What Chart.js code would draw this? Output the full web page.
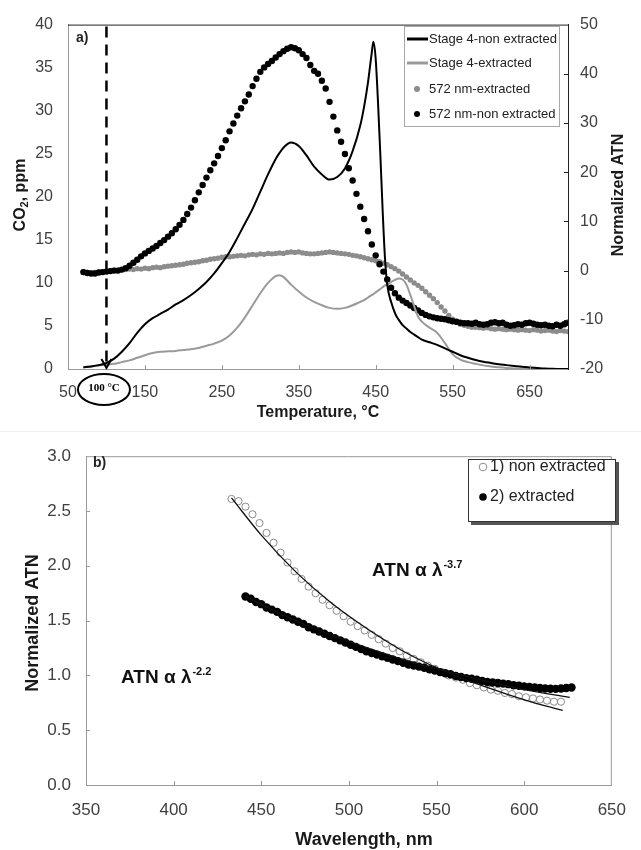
<!DOCTYPE html>
<html>
<head>
<meta charset="utf-8">
<script src="https://cdn.jsdelivr.net/npm/chart.js@4.4.1/dist/chart.umd.min.js"></script>
<style>
  body { margin: 0; background: #fff; }
  #wrap { position: relative; width: 641px; height: 850px; }
  #wrap canvas { position: absolute; left: 0; }
  #tga { top: 0; }
  #spec { top: 431px; }
  .sep { position: absolute; left: 0; top: 431px; width: 641px; height: 1px; background: #f0f0f0; }
</style>
</head>
<body>
<div id="wrap">
  <canvas id="tga" width="641" height="431"></canvas>
  <div class="sep"></div>
  <canvas id="spec" width="641" height="419"></canvas>
</div>
<script>
// ---- panel a) : CO2 evolution and ATN during the temperature programme ----
const tempTicks = [50, 150, 250, 350, 450, 550, 650];
const co2Ticks = [0, 5, 10, 15, 20, 25, 30, 35, 40];
const atnTicksA = [-20, -10, 0, 10, 20, 30, 40, 50];
const markTemp = 100;

const tempLine = [70, 80, 90, 100, 110, 120, 130, 140, 150, 160, 170, 180, 190, 200, 210, 220, 230, 240, 250, 260,
  270, 280, 290, 300, 310, 320, 325, 330, 340, 350, 360, 370, 380, 390, 400, 410, 420, 430, 435, 440,
  445, 447, 450, 453, 456, 459, 462, 465, 470, 476, 480, 485, 490, 495, 500, 505, 510, 520, 530, 540,
  550, 560, 570, 580, 590, 600, 610, 620, 630, 640, 650, 660, 670, 680, 690, 700];
const co2NonExtracted = [0.2, 0.3, 0.45, 0.7, 1.2, 2.0, 3.0, 4.2, 5.2, 5.9, 6.4, 6.9, 7.5, 8.0, 8.6, 9.3, 10.1, 11.1, 12.3, 13.6,
  15.2, 16.9, 18.6, 20.6, 22.6, 24.4, 25.1, 25.7, 26.3, 25.9, 24.8, 23.5, 22.6, 22.0, 22.3, 23.3, 25.3, 28.3, 30.5, 33.3,
  36.8, 38.0, 36.0, 31.0, 25.0, 18.5, 13.0, 9.8, 7.8, 6.3, 5.7, 5.1, 4.7, 4.3, 4.0, 3.7, 3.4, 3.1, 2.8, 2.4,
  2.0, 1.6, 1.3, 1.05, 0.85, 0.7, 0.55, 0.45, 0.35, 0.25, 0.18, 0.12, 0.06, 0.02, 0.0, 0.0];
const co2Extracted = [0.2, 0.3, 0.4, 0.5, 0.6, 0.8, 1.0, 1.3, 1.6, 1.85, 2.0, 2.05, 2.1, 2.2, 2.3, 2.45, 2.7, 2.95, 3.3, 3.9,
  4.8, 6.0, 7.4, 8.8, 10.0, 10.8, 10.9, 10.7, 9.8, 9.0, 8.3, 7.8, 7.4, 7.1, 7.0, 7.1, 7.4, 7.8, 8.0, 8.3,
  8.6, 8.7, 8.9, 9.1, 9.3, 9.5, 9.7, 9.8, 10.1, 10.4, 10.5, 10.4, 9.8, 8.6, 7.3, 6.1, 5.5, 4.8, 4.2, 3.0,
  1.7, 1.1, 0.8, 0.6, 0.42, 0.3, 0.2, 0.12, 0.06, 0.02, 0.0, 0.0, 0.0, 0.0, 0.0, 0.0];

const tempDots = [70, 75, 80, 85, 90, 95, 100, 105, 110, 115, 120, 125, 130, 135, 140, 145, 150, 155, 160, 165,
  170, 175, 180, 185, 190, 195, 200, 205, 210, 215, 220, 225, 230, 235, 240, 245, 250, 255, 260, 265,
  270, 275, 280, 285, 290, 295, 300, 305, 310, 315, 320, 325, 330, 335, 340, 345, 350, 355, 360, 365,
  370, 375, 380, 385, 390, 395, 400, 405, 410, 415, 420, 425, 430, 435, 440, 445, 450, 455, 460, 465,
  470, 475, 480, 485, 490, 495, 500, 505, 510, 515, 520, 525, 530, 535, 540, 545, 550, 555, 560, 565,
  570, 575, 580, 585, 590, 595, 600, 605, 610, 615, 620, 625, 630, 635, 640, 645, 650, 655, 660, 665,
  670, 675, 680, 685, 690, 695, 700];
const atnNonExtracted = [-0.3, -0.5, -0.6, -0.6, -0.4, -0.3, -0.2, -0.1, 0.0, 0.0, 0.2, 0.5, 1.0, 1.6, 2.2, 2.9, 3.5, 4.0, 4.5, 5.0,
  5.6, 6.2, 6.9, 7.6, 8.4, 9.3, 10.3, 11.5, 12.8, 14.3, 15.9, 17.4, 18.9, 20.4, 21.8, 23.3, 24.9, 26.5, 28.3, 29.9,
  31.5, 33.0, 34.4, 35.8, 37.5, 39.0, 40.4, 41.3, 42.0, 42.6, 43.3, 44.0, 44.6, 45.1, 45.4, 45.2, 44.8, 44.0, 43.2, 41.8,
  40.6, 40.0, 38.6, 37.0, 34.3, 31.3, 28.5, 26.2, 23.7, 20.8, 18.3, 15.6, 13.0, 10.5, 8.0, 5.3, 3.1, 1.3, -0.2, -1.8,
  -3.5, -4.6, -5.5, -6.1, -6.6, -7.1, -7.6, -8.1, -8.6, -9.0, -9.3, -9.5, -9.7, -9.8, -9.9, -10.1, -10.3, -10.4, -10.6, -10.7,
  -10.7, -10.8, -10.6, -10.9, -11.0, -10.9, -10.6, -10.5, -10.7, -10.6, -11.0, -11.2, -11.1, -10.9, -11.0, -10.7, -10.6, -10.8, -11.0, -11.1,
  -11.0, -11.2, -11.3, -11.0, -11.2, -10.9, -10.6];
const atnExtracted = [-0.2, -0.4, -0.5, -0.4, -0.3, -0.2, -0.1, 0.0, 0.1, 0.1, 0.2, 0.2, 0.3, 0.2, 0.4, 0.3, 0.5, 0.4, 0.6, 0.7,
  0.6, 0.8, 0.9, 1.0, 1.1, 1.2, 1.3, 1.5, 1.6, 1.7, 1.8, 2.0, 2.1, 2.3, 2.4, 2.5, 2.7, 2.8, 2.8, 2.9,
  3.0, 3.1, 3.0, 3.2, 3.3, 3.2, 3.4, 3.3, 3.5, 3.4, 3.5, 3.6, 3.5, 3.7, 3.8, 3.7, 3.8, 3.6, 3.5, 3.4,
  3.4, 3.5, 3.6, 3.7, 3.8, 3.7, 3.6, 3.5, 3.4, 3.3, 3.1, 3.0, 2.8, 2.6, 2.4, 2.2, 2.0, 1.8, 1.5, 1.2,
  0.8, 0.4, -0.1, -0.7, -1.3, -1.9, -2.5, -3.0, -3.6, -4.3, -5.0, -5.7, -6.5, -7.4, -8.2, -9.1, -9.9, -10.5, -10.9, -11.1,
  -11.3, -11.5, -11.5, -11.6, -11.7, -11.6, -11.8, -11.9, -11.8, -11.9, -12.0, -11.9, -12.0, -12.1, -12.0, -12.1, -12.2, -12.0, -12.1, -12.3,
  -12.2, -12.1, -12.3, -12.4, -12.2, -12.3, -12.4];

// ---- panel b) : spectral dependence of ATN ----
const wlTicks = [350, 400, 450, 500, 550, 600, 650];
const atnTicksB = [0, 0.5, 1.0, 1.5, 2.0, 2.5, 3.0];

const wlNon = [433, 437, 441, 445, 449, 453, 457, 461, 465, 469, 473, 477, 481, 485, 489, 493, 497, 501, 505, 509,
  513, 517, 521, 525, 529, 533, 537, 541, 545, 549, 553, 557, 561, 565, 569, 573, 577, 581, 585, 589,
  593, 597, 601, 605, 609, 613, 617, 621];
const atnNon = [2.61, 2.59, 2.54, 2.47, 2.39, 2.30, 2.21, 2.12, 2.03, 1.95, 1.88, 1.81, 1.75, 1.69, 1.64, 1.59, 1.54, 1.49, 1.45, 1.41,
  1.37, 1.33, 1.29, 1.25, 1.22, 1.18, 1.15, 1.12, 1.09, 1.06, 1.03, 1.00, 0.98, 0.96, 0.93, 0.91, 0.89, 0.87, 0.86, 0.84,
  0.83, 0.81, 0.80, 0.79, 0.78, 0.77, 0.76, 0.76];

const wlExt = [441, 444, 447, 450, 453, 456, 459, 462, 465, 468, 471, 474, 477, 480, 483, 486, 489, 492, 495, 498,
  501, 504, 507, 510, 513, 516, 519, 522, 525, 528, 531, 534, 537, 540, 543, 546, 549, 552, 555, 558,
  561, 564, 567, 570, 573, 576, 579, 582, 585, 588, 591, 594, 597, 600, 603, 606, 609, 612, 615, 618,
  621, 624, 627];
const atnExt = [1.72, 1.70, 1.67, 1.65, 1.62, 1.60, 1.58, 1.55, 1.53, 1.51, 1.49, 1.47, 1.44, 1.42, 1.40, 1.38, 1.36, 1.34, 1.32, 1.30,
  1.28, 1.26, 1.24, 1.22, 1.205, 1.19, 1.175, 1.16, 1.145, 1.13, 1.115, 1.10, 1.09, 1.08, 1.07, 1.055, 1.045, 1.03, 1.02, 1.01,
  0.995, 0.985, 0.975, 0.97, 0.96, 0.95, 0.94, 0.935, 0.93, 0.925, 0.92, 0.91, 0.905, 0.90, 0.895, 0.89, 0.885, 0.88, 0.878, 0.877,
  0.88, 0.885, 0.89];

// power-law fit curves
const wlFitNon = [433, 450, 470, 490, 510, 530, 550, 570, 590, 610, 622];
const fitNon = [2.62, 2.28, 1.94, 1.66, 1.43, 1.23, 1.07, 0.94, 0.83, 0.73, 0.68];
const wlFitExt = [441, 460, 480, 500, 520, 540, 560, 580, 600, 626];
const fitExt = [1.72, 1.57, 1.43, 1.31, 1.20, 1.10, 1.02, 0.94, 0.87, 0.80];

const SANS = '"Liberation Sans", Arial, sans-serif';
const pts = (xs, ys) => xs.map((x, i) => ({ x: x, y: ys[i] }));
const fixedTicks = (list) => (scale) => { scale.ticks = list.map(v => ({ value: v })); };

function vText(ctx, parts, x, y) {
  // parts: [text, font, dy] drawn left to right, rotated to read bottom-up
  ctx.save();
  ctx.translate(x, y);
  ctx.rotate(-Math.PI / 2);
  ctx.textBaseline = 'middle';
  ctx.textAlign = 'left';
  let w = 0;
  parts.forEach(p => { ctx.font = p[1]; w += ctx.measureText(p[0]).width; });
  let cx = -w / 2;
  parts.forEach(p => { ctx.font = p[1]; ctx.fillText(p[0], cx, p[2] || 0); cx += ctx.measureText(p[0]).width; });
  ctx.restore();
}

function innerTicks(ctx, scale, values, side, len, color) {
  ctx.save();
  ctx.strokeStyle = color;
  ctx.lineWidth = 1;
  ctx.beginPath();
  values.forEach(v => {
    const p = Math.round(scale.getPixelForValue(v)) + 0.5;
    if (side === 'bottom') { ctx.moveTo(p, scale.top); ctx.lineTo(p, scale.top - len); }
    if (side === 'left') { ctx.moveTo(scale.right, p); ctx.lineTo(scale.right + len, p); }
    if (side === 'right') { ctx.moveTo(scale.left, p); ctx.lineTo(scale.left - len, p); }
  });
  ctx.stroke();
  ctx.restore();
}

function powerLabel(ctx, x, y, sup) {
  ctx.save();
  ctx.fillStyle = '#111';
  ctx.textBaseline = 'alphabetic';
  ctx.textAlign = 'left';
  ctx.font = 'bold 19px ' + SANS;
  ctx.fillText('ATN α λ', x, y);
  const w = ctx.measureText('ATN α λ').width;
  ctx.font = 'bold 11px ' + SANS;
  ctx.fillText(sup, x + w + 1, y - 8);
  ctx.restore();
}

const panelA = {
  id: 'panelA',
  afterDraw(chart) {
    const ctx = chart.ctx;
    const a = chart.chartArea;
    const xs = chart.scales.x;

    ctx.save();
    ctx.strokeStyle = '#222';
    ctx.lineWidth = 1;
    ctx.beginPath();
    ctx.moveTo(a.left, a.top + 0.5);
    ctx.lineTo(a.right, a.top + 0.5);
    ctx.stroke();
    ctx.restore();

    innerTicks(ctx, xs, tempTicks.slice(1), 'bottom', 4, '#999');
    innerTicks(ctx, chart.scales.y2, atnTicksA.slice(1, -1), 'right', 4, '#222');

    // dashed marker at the start temperature
    const mx = xs.getPixelForValue(markTemp);
    ctx.save();
    ctx.strokeStyle = '#000';
    ctx.lineWidth = 2.5;
    ctx.setLineDash([11, 7]);
    ctx.beginPath();
    ctx.moveTo(mx, a.top + 2);
    ctx.lineTo(mx, a.bottom - 2);
    ctx.stroke();
    ctx.setLineDash([]);
    ctx.lineWidth = 2;
    ctx.beginPath();
    ctx.moveTo(mx - 5, a.bottom - 10);
    ctx.lineTo(mx, a.bottom - 1);
    ctx.lineTo(mx + 5, a.bottom - 10);
    ctx.stroke();

    ctx.beginPath();
    ctx.ellipse(mx - 2.5, a.bottom + 20.5, 26, 15.5, 0, 0, Math.PI * 2);
    ctx.stroke();
    ctx.fillStyle = '#000';
    ctx.font = 'bold 11px "Liberation Serif", "Times New Roman", serif';
    ctx.textAlign = 'center';
    ctx.textBaseline = 'middle';
    ctx.fillText(markTemp + ' °C', mx - 2.5, a.bottom + 19.5);

    ctx.font = 'bold 14px ' + SANS;
    ctx.fillStyle = '#222';
    ctx.textAlign = 'left';
    ctx.fillText('a)', 76, 38);

    // legend
    ctx.strokeStyle = '#a8a8a8';
    ctx.lineWidth = 1;
    ctx.strokeRect(404.5, 26.5, 155, 100);
    const ds = chart.data.datasets;
    const rows = [[0, 39], [1, 63], [3, 89], [2, 114]];
    ctx.font = '13px ' + SANS;
    rows.forEach(([i, ly]) => {
      const d = ds[i];
      if (d.showLine) {
        ctx.strokeStyle = d.borderColor;
        ctx.lineWidth = 3;
        ctx.beginPath();
        ctx.moveTo(407, ly);
        ctx.lineTo(428, ly);
        ctx.stroke();
      } else {
        ctx.fillStyle = d.backgroundColor;
        ctx.beginPath();
        ctx.arc(417, ly, 3, 0, Math.PI * 2);
        ctx.fill();
      }
      ctx.fillStyle = '#222';
      ctx.fillText(d.label, 429, ly);
    });

    // axis titles
    ctx.fillStyle = '#1a1a1a';
    ctx.textAlign = 'center';
    ctx.font = 'bold 16px ' + SANS;
    ctx.fillText('Temperature, °C', (a.left + a.right) / 2, 413);
    vText(ctx, [['CO', 'bold 16px ' + SANS], ['2', 'bold 11px ' + SANS, 4], [', ppm', 'bold 16px ' + SANS]], 21, 195);
    vText(ctx, [['Normalized ATN', 'bold 16px ' + SANS]], 619, 195);
    ctx.restore();
  }
};

const panelB = {
  id: 'panelB',
  afterDraw(chart) {
    const ctx = chart.ctx;
    const a = chart.chartArea;

    ctx.save();
    ctx.strokeStyle = '#999';
    ctx.lineWidth = 1;
    ctx.beginPath();
    ctx.moveTo(a.left, a.top + 0.5);
    ctx.lineTo(a.right - 0.5, a.top + 0.5);
    ctx.lineTo(a.right - 0.5, a.bottom);
    ctx.stroke();
    ctx.restore();

    innerTicks(ctx, chart.scales.x, wlTicks.slice(1, -1), 'bottom', 4, '#999');
    innerTicks(ctx, chart.scales.y, atnTicksB.slice(1, -1), 'left', 4, '#999');

    ctx.save();
    ctx.fillStyle = '#222';
    ctx.font = 'bold 14px ' + SANS;
    ctx.textAlign = 'left';
    ctx.textBaseline = 'middle';
    ctx.fillText('b)', 93, 32);
    ctx.restore();

    powerLabel(ctx, 372, 145, '-3.7');
    powerLabel(ctx, 121, 252, '-2.2');

    // legend with drop shadow
    ctx.save();
    ctx.fillStyle = '#555';
    ctx.fillRect(471, 31, 148, 63);
    ctx.fillStyle = '#fff';
    ctx.fillRect(468, 28, 148, 63);
    ctx.strokeStyle = '#333';
    ctx.lineWidth = 1;
    ctx.strokeRect(468.5, 28.5, 147, 62);
    ctx.font = '16px ' + SANS;
    ctx.textAlign = 'left';
    ctx.textBaseline = 'middle';
    const ds = chart.data.datasets;
    [[3, 36], [2, 66]].forEach(([i, ly]) => {
      const d = ds[i];
      ctx.beginPath();
      ctx.arc(483, ly, 3.8, 0, Math.PI * 2);
      if (d.borderWidth) {
        ctx.strokeStyle = d.borderColor;
        ctx.stroke();
      } else {
        ctx.fillStyle = d.backgroundColor;
        ctx.fill();
      }
      ctx.fillStyle = '#222';
      ctx.fillText(d.label, 490, ly);
    });

    ctx.fillStyle = '#1a1a1a';
    ctx.textAlign = 'center';
    ctx.font = 'bold 18px ' + SANS;
    ctx.fillText('Wavelength, nm', 364, 409);
    vText(ctx, [['Normalized ATN', 'bold 18px ' + SANS]], 33, 192);
    ctx.restore();
  }
};

const tickFont = (size) => ({ family: SANS, size: size });

new Chart(document.getElementById('tga'), {
  type: 'scatter',
  data: {
    datasets: [
      { label: 'Stage 4-non extracted', data: pts(tempLine, co2NonExtracted), yAxisID: 'y', showLine: true,
        borderColor: '#000', borderWidth: 2, pointRadius: 0, cubicInterpolationMode: 'monotone' },
      { label: 'Stage 4-extracted', data: pts(tempLine, co2Extracted), yAxisID: 'y', showLine: true,
        borderColor: '#9a9a9a', borderWidth: 2, pointRadius: 0, cubicInterpolationMode: 'monotone' },
      { label: '572 nm-non extracted', data: pts(tempDots, atnNonExtracted), yAxisID: 'y2',
        pointRadius: 3.2, backgroundColor: '#000', borderWidth: 0 },
      { label: '572 nm-extracted', data: pts(tempDots, atnExtracted), yAxisID: 'y2',
        pointRadius: 2.7, backgroundColor: '#8c8c8c', borderWidth: 0 }
    ]
  },
  options: {
    responsive: false,
    animation: false,
    events: [],
    devicePixelRatio: 1,
    layout: { padding: { top: 20, left: 0, right: 0, bottom: 0 } },
    plugins: { legend: { display: false }, tooltip: { enabled: false } },
    scales: {
      x: {
        type: 'linear', min: 50, max: 700,
        afterBuildTicks: fixedTicks(tempTicks),
        afterFit: (s) => { s.height = 62; },
        grid: { display: false, drawTicks: false },
        border: { display: true, color: '#999' },
        ticks: { font: tickFont(16), color: '#404040', padding: 14, maxRotation: 0, autoSkip: false }
      },
      y: {
        position: 'left', min: 0, max: 40,
        afterBuildTicks: fixedTicks(co2Ticks),
        afterFit: (s) => { s.width = 68; },
        grid: { display: false, drawTicks: false },
        border: { display: true, color: '#999' },
        ticks: { font: tickFont(16), color: '#404040', padding: 15 }
      },
      y2: {
        position: 'right', min: -20, max: 50,
        afterBuildTicks: fixedTicks(atnTicksA),
        afterFit: (s) => { s.width = 73; },
        grid: { display: false, drawTicks: false },
        border: { display: true, color: '#222' },
        ticks: { font: tickFont(16), color: '#404040', padding: 12 }
      }
    }
  },
  plugins: [panelA]
});

new Chart(document.getElementById('spec'), {
  type: 'scatter',
  data: {
    datasets: [
      { label: 'fit non extracted', data: pts(wlFitNon, fitNon), showLine: true,
        borderColor: '#111', borderWidth: 1.3, pointRadius: 0, cubicInterpolationMode: 'monotone' },
      { label: 'fit extracted', data: pts(wlFitExt, fitExt), showLine: true,
        borderColor: '#111', borderWidth: 1.3, pointRadius: 0, cubicInterpolationMode: 'monotone' },
      { label: '2) extracted', data: pts(wlExt, atnExt),
        pointRadius: 4.2, backgroundColor: '#000', borderWidth: 0 },
      { label: '1) non extracted', data: pts(wlNon, atnNon),
        pointRadius: 3.6, backgroundColor: 'rgba(0,0,0,0)', borderColor: '#8a8a8a', borderWidth: 1 }
    ]
  },
  options: {
    responsive: false,
    animation: false,
    events: [],
    devicePixelRatio: 1,
    layout: { padding: { top: 17, left: 0, right: 17, bottom: 0 } },
    plugins: { legend: { display: false }, tooltip: { enabled: false } },
    scales: {
      x: {
        type: 'linear', min: 350, max: 650,
        afterBuildTicks: fixedTicks(wlTicks),
        afterFit: (s) => { s.height = 65; },
        grid: { display: false, drawTicks: false },
        border: { display: true, color: '#999' },
        ticks: { font: tickFont(17), color: '#404040', padding: 15, maxRotation: 0, autoSkip: false }
      },
      y: {
        min: 0, max: 3,
        afterBuildTicks: fixedTicks(atnTicksB),
        afterFit: (s) => { s.width = 86; },
        grid: { display: false, drawTicks: false },
        border: { display: true, color: '#999' },
        ticks: { font: tickFont(17), color: '#404040', padding: 15, callback: (v) => v.toFixed(1) }
      }
    }
  },
  plugins: [panelB]
});
</script>
</body>
</html>
